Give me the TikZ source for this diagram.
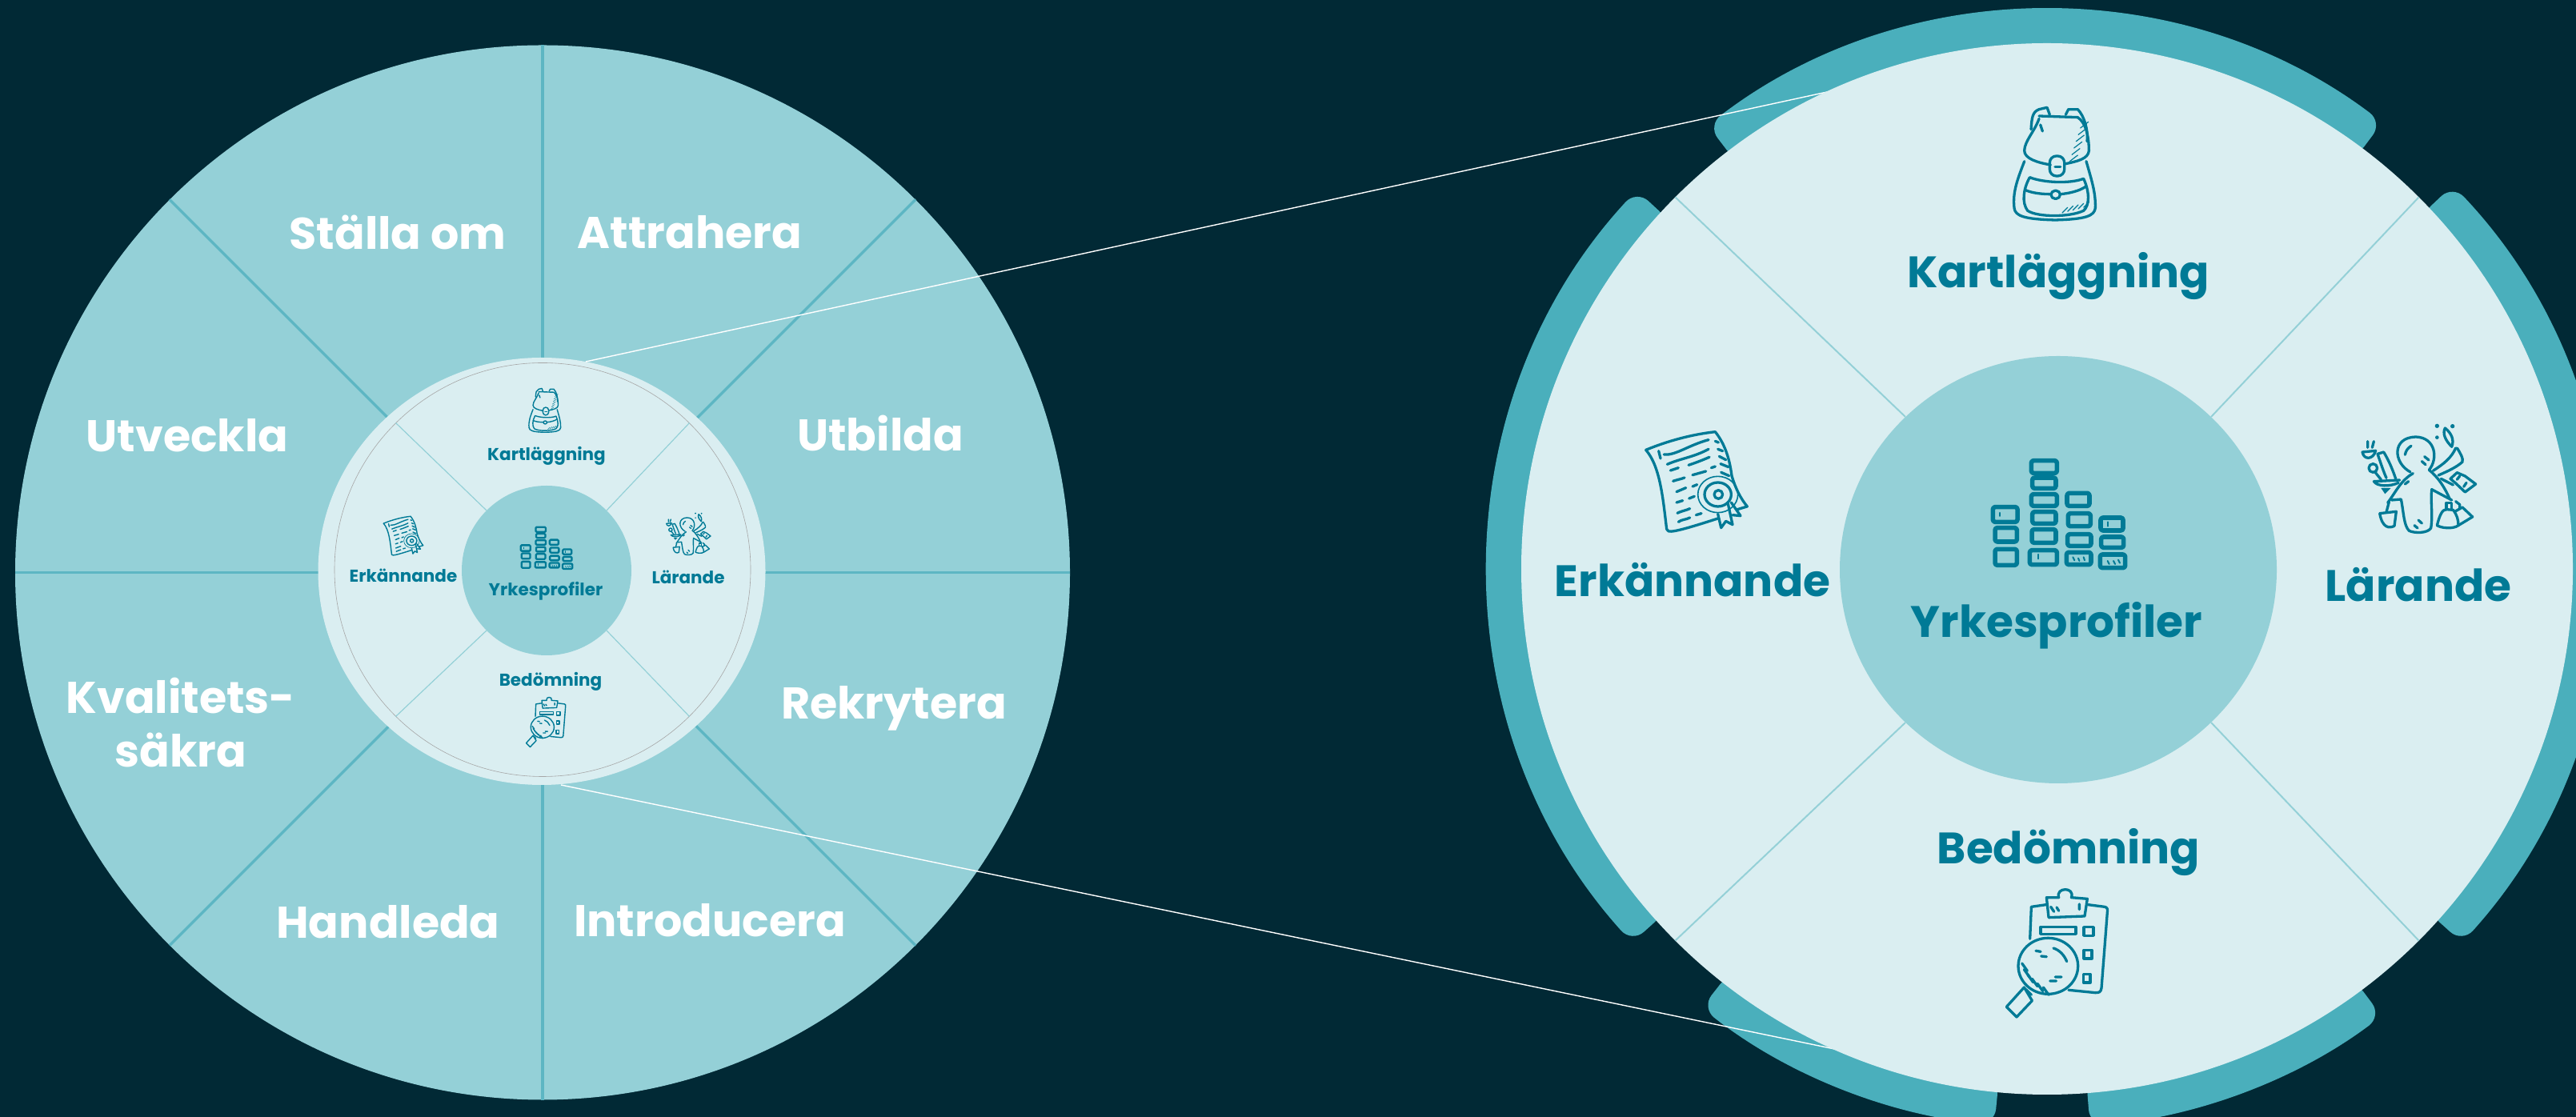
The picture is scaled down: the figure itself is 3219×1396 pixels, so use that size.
\documentclass[tikz,border=0pt]{standalone}
\usepackage{fontspec}
\usetikzlibrary{shapes.geometric}
\setmainfont{Poppins}
\definecolor{nightbg}{HTML}{012935}
\definecolor{wheelfill}{HTML}{94D0D7}
\definecolor{wheelspoke}{HTML}{5DB6C3}
\definecolor{palefill}{HTML}{DAEEF1}
\definecolor{bandteal}{HTML}{4AAFBC}
\definecolor{inkteal}{HTML}{007A96}
\newcommand{\bandpiece}[2]{\fill[bandteal,rounded corners=20pt,shift={(zoomcentre)}] (#1:698pt) arc[start angle=#1,end angle=#2,radius=698pt] -- (#2:640pt) arc[start angle=#2,end angle=#1,radius=640pt] -- cycle;}
\tikzset{
	disc/.style={circle,inner sep=0pt,fill=#1},
	oval/.style={ellipse,inner sep=0pt,fill=#1},
	wheeltext/.style={text=white,font=\fontsize{55.5}{67}\selectfont\bfseries,align=center},
	bigtext/.style={text=inkteal,font=\fontsize{55}{60}\selectfont\bfseries},
	smalltext/.style={text=inkteal,font=\fontsize{21.5}{24}\selectfont\bfseries},
	bigicon/.style={scale=.3333,line width=3.3pt,color=inkteal,line cap=round,line join=round},
	smallicon/.style={scale=.13,line width=1.4pt,color=inkteal,line cap=round,line join=round},
	backpack/.pic={
		\begin{scope}[yscale=-1,shift={(-565,-345)}]
			\draw (450,335) .. controls (425,400) and (405,450) .. (412,510) .. controls (415,540) and (450,552) .. (565,555) .. controls (680,552) and (712,540) .. (716,510) .. controls (718,450) and (700,400) .. (682,335);
			\draw (505,175) .. controls (490,220) and (450,260) .. (450,295) .. controls (450,325) and (500,340) .. (548,348);
			\draw (600,345) .. controls (650,335) and (690,325) .. (692,295) .. controls (692,240) and (680,190) .. (650,170) -- (505,165);
			\draw (475,215) .. controls (478,170) and (480,150) .. (505,140) -- (535,133) -- (545,160);
			\draw (605,160) -- (615,140) -- (650,140) .. controls (675,165) and (690,220) .. (685,260);
			\draw[rounded corners=2.5*\pgflinewidth] (545,315) rectangle (600,390);
			\draw (565,355) -- (585,355);
			\draw (470,395) .. controls (520,415) and (620,420) .. (672,400) .. controls (695,450) and (695,500) .. (672,520) .. controls (620,545) and (500,545) .. (462,520) .. controls (440,490) and (445,440) .. (470,395);
			\draw (452,442) .. controls (480,455) and (520,458) .. (548,458);
			\draw (585,458) .. controls (620,455) and (660,445) .. (682,428);
			\draw[rounded corners=1.5*\pgflinewidth] (550,445) rectangle (584,475);
			\foreach \k in {0,...,5}
				\draw[line width=.6*\pgflinewidth] (620+8*\k,335-25*\k) -- (650+8*\k,312-25*\k);
			\foreach \k in {0,...,4}
				\draw[line width=.6*\pgflinewidth] (592+20*\k,528-5*\k) -- (612+20*\k,508-5*\k);
			\draw (510,198) -- (518,222);
		\end{scope}
	},
	scrollsheet/.pic={
		\begin{scope}[yscale=-1,shift={(-360,-250)}]
			\draw (170,128) .. controls (250,95) and (340,70) .. (430,60) .. controls (470,110) and (485,170) .. (492,225) .. controls (505,270) and (525,310) .. (550,340) -- (510,352);
			\draw (170,128) .. controls (225,190) and (235,320) .. (248,425) .. controls (250,440) and (270,440) .. (440,385);
			\draw (238,145) .. controls (280,150) and (330,110) .. (405,90);
			\draw (218,132) -- (225,160);
			\draw (250,182) .. controls (300,160) and (350,155) .. (405,125);
			\draw (330,185) .. controls (360,175) and (385,165) .. (408,155);
			\draw (262,205) -- (292,195);
			\draw (345,222) -- (395,208);
			\draw (415,195) -- (430,190);
			\draw (272,245) .. controls (285,240) and (300,238) .. (315,232);
			\draw (285,285) -- (320,270);
			\draw (345,265) -- (362,258);
			\draw (285,325) -- (308,318);
			\draw (332,310) -- (352,302);
			\draw (288,365) .. controls (300,358) and (320,355) .. (335,348);
			\draw (292,398) .. controls (305,388) and (320,390) .. (335,382);
			\draw (358,372) -- (378,366);
			\draw (430,95) -- (442,100);
			\draw (440,125) -- (458,132);
			\draw (445,152) -- (470,165);
			\draw (450,180) -- (480,192);
			\draw (452,212) -- (482,225);
			\draw[line width=.7*\pgflinewidth] (440,295) ellipse [x radius=75,y radius=68];
			\draw (440,295) ellipse [x radius=50,y radius=45];
			\draw (442,295) ellipse [x radius=16,y radius=16];
			\draw (440,368) -- (452,420) -- (470,395) -- (495,408) -- (478,330);
			\draw (490,325) -- (525,375) -- (495,372);
		\end{scope}
	},
	multitasker/.pic={
		\begin{scope}[yscale=-1,shift={(-365,-300)}]
			\draw (335,270) .. controls (270,235) and (265,140) .. (355,138) .. controls (430,140) and (440,220) .. (405,262);
			\draw (345,275) .. controls (300,300) and (280,345) .. (250,385);
			\draw (265,375) -- (300,372) .. controls (310,420) and (310,470) .. (330,490) .. controls (350,500) and (400,500) .. (412,480) .. controls (420,430) and (410,380) .. (415,335) -- (490,375);
			\draw (405,262) .. controls (440,290) and (465,330) .. (482,370);
			\draw (420,265) .. controls (460,240) and (490,215) .. (505,180);
			\draw (440,282) .. controls (480,265) and (510,250) .. (530,232) .. controls (535,220) and (520,195) .. (510,180);
			\draw (490,175) .. controls (465,150) and (455,125) .. (465,105) .. controls (490,125) and (500,150) .. (490,175);
			\fill (435,97) circle [radius=8] (493,98) circle [radius=8] (435,140) circle [radius=7];
			\draw (450,295) -- (495,318);
			\draw (485,295) -- (510,272) -- (540,285) -- (580,315) -- (540,345) -- (505,312) -- cycle;
			\draw (520,285) -- (510,298) (545,310) -- (535,325);
			\draw (295,300) -- (198,305) .. controls (210,325) and (260,325) .. (290,310);
			\fill (225,330) -- (262,330) -- (240,352) -- cycle;
			\draw (195,255) circle [radius=16];
			\draw (204,272) -- (225,298);
			\draw (280,295) .. controls (265,250) and (250,220) .. (235,195) -- (212,202) .. controls (225,240) and (235,270) .. (245,292);
			\draw (155,195) .. controls (160,225) and (195,225) .. (205,190) -- cycle;
			\draw (175,155) -- (175,178) (198,155) -- (192,178);
			\draw (220,425) -- (282,418) -- (275,472) .. controls (255,482) and (230,480) .. cycle;
			\draw (245,420) -- (255,382);
			\draw (435,470) .. controls (445,430) and (455,410) .. (470,410) -- (495,412) .. controls (510,430) and (515,450) .. (515,470) .. controls (495,485) and (450,480) .. cycle;
			\draw (470,410) -- (470,385) -- (490,385) -- (490,412);
			\draw (505,380) -- (520,392) -- (520,408);
			\draw (515,470) -- (568,438) -- (530,402) -- (502,418);
			\draw (350,470) -- (362,480) (365,450) -- (378,462);
			\draw (378,230) -- (392,242) (388,212) -- (404,225);
			\draw (315,315) -- (328,305);
			\draw (315,205) .. controls (318,190) and (325,180) .. (338,172);
		\end{scope}
	},
	clipboard/.pic={
		\begin{scope}[yscale=-1,shift={(-300,-330)}]
			\draw (200,280) -- (205,160) -- (260,152);
			\draw (418,152) -- (480,160) .. controls (490,162) and (492,170) .. (490,180) -- (468,465) .. controls (465,480) and (460,482) .. (445,482) -- (345,472);
			\draw (262,125) -- (308,125) .. controls (295,85) and (370,85) .. (355,125) -- (415,130) -- (405,195) -- (270,200) -- cycle;
			\draw (240,235) rectangle (372,262);
			\draw (402,236) rectangle (438,268);
			\draw (402,322) rectangle (432,354);
			\draw (400,412) rectangle (426,444);
			\draw (268,382) ellipse [x radius=112,y radius=105];
			\draw (178,462) -- (112,535) -- (150,573) -- (208,512) -- cycle;
			\draw (185,470) -- (205,490);
			\draw (288,315) .. controls (310,322) and (328,340) .. (338,365);
			\draw (222,325) -- (240,328) (242,345) -- (262,347) (295,423) -- (318,423) (275,438) -- (298,438);
			\foreach \hx/\hy in {170/372,178/395,192/415,208/430,228/448,250/462}
				\draw (\hx,\hy) -- (\hx+20,\hy+28);
			\draw (278,160) -- (290,178) (300,162) -- (308,175) (385,150) -- (385,170);
		\end{scope}
	},
	jobbars/.pic={
		\begin{scope}[yscale=-1,shift={(-458,-310)},line width=1.3*\pgflinewidth]
			\foreach \xa/\ya/\xb/\yb in {210/282/302/338,218/360/300/412,218/440/300/500,354/108/450/155,358/172/446/212,354/234/450/278,358/300/446/344,356/366/446/416,348/444/450/498,488/230/572/278,492/306/576/354,490/384/578/428,486/452/578/498,614/322/698/370,616/394/700/434,612/460/706/510}
				\draw[rounded corners=.5*\pgflinewidth] (\xa,\ya) rectangle (\xb,\yb);
			\draw[line width=.6*\pgflinewidth] (237,304) -- (237,316) (380,460) -- (380,476) (640,338) -- (640,354);
			\draw[line width=.6*\pgflinewidth] (510,470) -- (516,482) (530,474) -- (534,484) (550,470) -- (554,482) (640,484) -- (646,496) (662,484) -- (668,496) (680,480) -- (686,492);
		\end{scope}
	}
}
\begin{document}
\begin{tikzpicture}[x=1pt,y=1pt]
	\fill[nightbg] (0,0) rectangle (3219,1396);
	\useasboundingbox (0,0) rectangle (3219,1396);

	\node[disc=wheelfill,minimum size=1318pt] (wheel) at (678,680.5) {};
	\foreach \a in {0,45,...,315}
		\draw[wheelspoke,line width=3.5pt] (wheel.\a) -- (wheel.center);
	\node[oval=palefill,minimum width=559pt,minimum height=534pt] (hubring) at (677,682) {};

	\node[wheeltext] (rolestalla) at (497,1106) {Ställa om};
	\node[wheeltext] (roleattrahera) at (862,1106) {Attrahera};
	\node[wheeltext] (roleutveckla) at (234,852) {Utveckla};
	\node[wheeltext] (roleutbilda) at (1100,854) {Utbilda};
	\node[wheeltext] (rolekvalitet) at (226,493) {Kvalitets-\\säkra};
	\node[wheeltext] (rolerekrytera) at (1117,511) {Rekrytera};
	\node[wheeltext] (rolehandleda) at (485,244) {Handleda};
	\node[wheeltext] (roleintroducera) at (887,246) {Introducera};

	\node[ellipse,draw=black!35,line width=.6pt,inner sep=0pt,minimum width=520pt,minimum height=517pt] (hubdial) at (678,684) {};
	\node[disc=wheelfill,minimum size=212pt] (hubcore) at (683,683) {};
	\foreach \a in {45,135,225,315}
		\draw[wheelfill,line width=1.2pt] (hubdial.\a) -- (hubcore.\a);

	\node[smalltext] (hubkart) at (683,826) {Kartläggning};
	\node[smalltext] (huberk) at (504,677) {Erkännande};
	\node[smalltext] (hublar) at (860,675) {Lärande};
	\node[smalltext] (hubyrke) at (682,657) {Yrkesprofiler};
	\node[smalltext] (hubbed) at (688,544) {Bedömning};
	\pic[smallicon] at (681,883) {backpack};
	\pic[smallicon] at (504,726) {scrollsheet};
	\pic[smallicon] at (860,728) {multitasker};
	\pic[smallicon] at (682,494) {clipboard};
	\pic[smallicon] at (683,711) {jobbars};

	\coordinate (zoomcentre) at (2558,685);
	\bandpiece{53.1}{127.4}
	\bandpiece{137.3}{222}
	\bandpiece{231.8}{264.6}
	\bandpiece{274.4}{306.8}
	\bandpiece{-42}{43.4}

	\coordinate (taptop) at (732,944);
	\coordinate (tapbottom) at (701,415);
	\coordinate (lenstop) at (2283,1281);
	\coordinate (lensbottom) at (2297,84);
	\draw[white,line width=1.4pt] (taptop) -- (lenstop);
	\draw[white,line width=1.4pt] (tapbottom) -- (lensbottom);

	\node[disc=palefill,minimum size=1314pt] (lens) at (zoomcentre) {};
	\node[oval=wheelfill,minimum width=546pt,minimum height=534pt] (lenscore) at (2572,684) {};
	\foreach \a in {45,135,225,315}
		\draw[wheelfill,line width=2pt] (lens.\a) -- (lenscore.\a);

	\node[bigtext] (lenskart) at (2572,1051) {Kartläggning};
	\node[bigtext] (lenserk) at (2115,671) {Erkännande};
	\node[bigtext] (lenslar) at (3022,665) {Lärande};
	\node[bigtext] (lensyrke) at (2570,614) {Yrkesprofiler};
	\node[bigtext] (lensbed) at (2585,331) {Bedömning};
	\pic[bigicon] at (2568,1191) {backpack};
	\pic[bigicon] at (2120,793) {scrollsheet};
	\pic[bigicon] at (3022,796) {multitasker};
	\pic[bigicon] at (2570,206) {clipboard};
	\pic[bigicon] at (2573,753) {jobbars};
\end{tikzpicture}
\end{document}
